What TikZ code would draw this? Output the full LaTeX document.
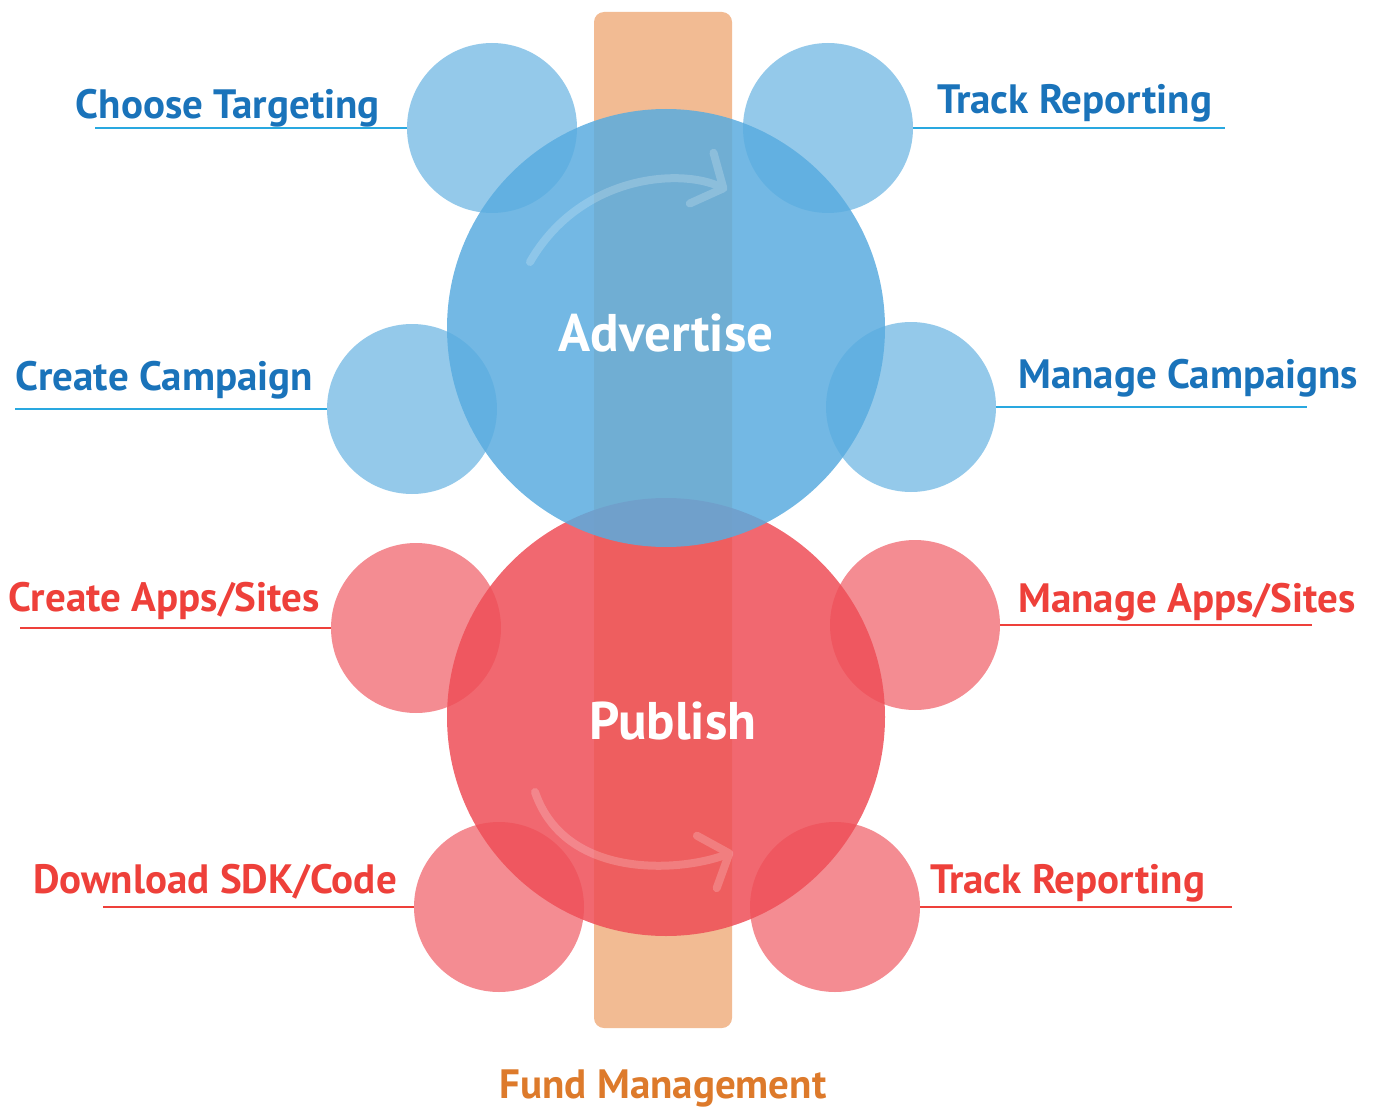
\documentclass[tikz,border=0pt]{standalone}
\usepackage{fontspec}
\setmainfont{PT Sans}
\usetikzlibrary{positioning,arrows.meta}

\definecolor{advblue}{RGB}{90,172,223}
\definecolor{pubred}{RGB}{238,78,87}
\definecolor{barorange}{RGB}{242,187,147}
\definecolor{bluetext}{RGB}{26,115,186}
\definecolor{blueline}{RGB}{41,168,224}
\definecolor{redtext}{RGB}{238,64,58}
\definecolor{fundtext}{RGB}{221,122,43}

\begin{document}
\begin{tikzpicture}[
        x=1pt, y=-1pt,
        hub/.style={circle, minimum size=438pt, inner sep=0pt, outer sep=0pt, fill opacity=0.85},
        hub text/.style={inner sep=0pt, text=white, font=\fontsize{53}{60}\selectfont\bfseries},
        task/.style={circle, minimum size=170pt, inner sep=0pt, outer sep=0pt, fill opacity=0.65},
        task label/.style={inner sep=0pt, font=\fontsize{41}{48}\selectfont\bfseries},
        task line/.style={line width=2.5pt},
        sweep/.style={line width=8pt, white, line cap=round, -{Straight Barb[length=24pt, width=56pt, round]}}
      ]

      \useasboundingbox (0,0) rectangle (1376,1110);

      % fund bar behind everything
      \node[fill=barorange, rounded corners=10pt, minimum width=138pt, minimum height=1016pt, inner sep=0pt] (bar) at (663,520) {};
      \node[task label, text=fundtext, below=41pt of bar] (fund) {Fund Management};

      % publish side
      \node[hub, fill=pubred] (pub) at (666,717) {};
      \node[task, fill=pubred] (pubA) at (416,628) {};
      \node[task, fill=pubred] (pubB) at (915,625) {};
      \node[task, fill=pubred] (pubC) at (499,907) {};
      \node[task, fill=pubred] (pubD) at (835,907) {};
      \node[hub text] (pubtext) at ([xshift=7pt, yshift=-4pt]pub.center) {Publish};

      \coordinate (pubAend) at (20,628);
      \coordinate (pubBend) at (1312,625);
      \coordinate (pubCend) at (103,907);
      \coordinate (pubDend) at (1232,907);
      \draw[task line, redtext] (pubA.west) -- (pubAend);
      \draw[task line, redtext] (pubB.east) -- (pubBend);
      \draw[task line, redtext] (pubC.west) -- (pubCend);
      \draw[task line, redtext] (pubD.east) -- (pubDend);

      \node[task label, text=redtext, anchor=base east] (pubAlab) at (320,611) {Create Apps/Sites};
      \node[task label, text=redtext, anchor=base west] (pubBlab) at (1018,612) {Manage Apps/Sites};
      \node[task label, text=redtext, anchor=base east] (pubClab) at (397,893) {Download SDK/Code};
      \node[task label, text=redtext, anchor=base west] (pubDlab) at (930,893) {Track Reporting};

      \begin{scope}[transparency group, opacity=0.2]
        \coordinate (pubS) at (535,792);
        \coordinate (pubT) at (733,852);
        \draw[sweep] (pubS) .. controls (565,880) and (680,872) .. (pubT);
      \end{scope}

      % advertise side
      \node[hub, fill=advblue] (adv) at (666,328) {};
      \node[task, fill=advblue] (advA) at (492,128) {};
      \node[task, fill=advblue] (advB) at (828,128) {};
      \node[task, fill=advblue] (advC) at (412,409) {};
      \node[task, fill=advblue] (advD) at (911,407) {};
      \node[hub text] (advtext) at ([yshift=-5pt]adv.center) {Advertise};

      \coordinate (advAend) at (95,128);
      \coordinate (advBend) at (1225,128);
      \coordinate (advCend) at (15,409);
      \coordinate (advDend) at (1307,407);
      \draw[task line, blueline] (advA.west) -- (advAend);
      \draw[task line, blueline] (advB.east) -- (advBend);
      \draw[task line, blueline] (advC.west) -- (advCend);
      \draw[task line, blueline] (advD.east) -- (advDend);

      \node[task label, text=bluetext, anchor=base east] (advAlab) at (380,119) {Choose Targeting};
      \node[task label, text=bluetext, anchor=base west] (advBlab) at (937,114) {Track Reporting};
      \node[task label, text=bluetext, anchor=base east] (advClab) at (313,390) {Create Campaign};
      \node[task label, text=bluetext, anchor=base west] (advDlab) at (1018,388) {Manage Campaigns};

      \begin{scope}[transparency group, opacity=0.2]
        \coordinate (advS) at (530,262);
        \coordinate (advT) at (727,190);
        \draw[sweep] (advS) .. controls (580,175) and (680,168) .. (advT);
      \end{scope}

    \end{tikzpicture}
\end{document}
